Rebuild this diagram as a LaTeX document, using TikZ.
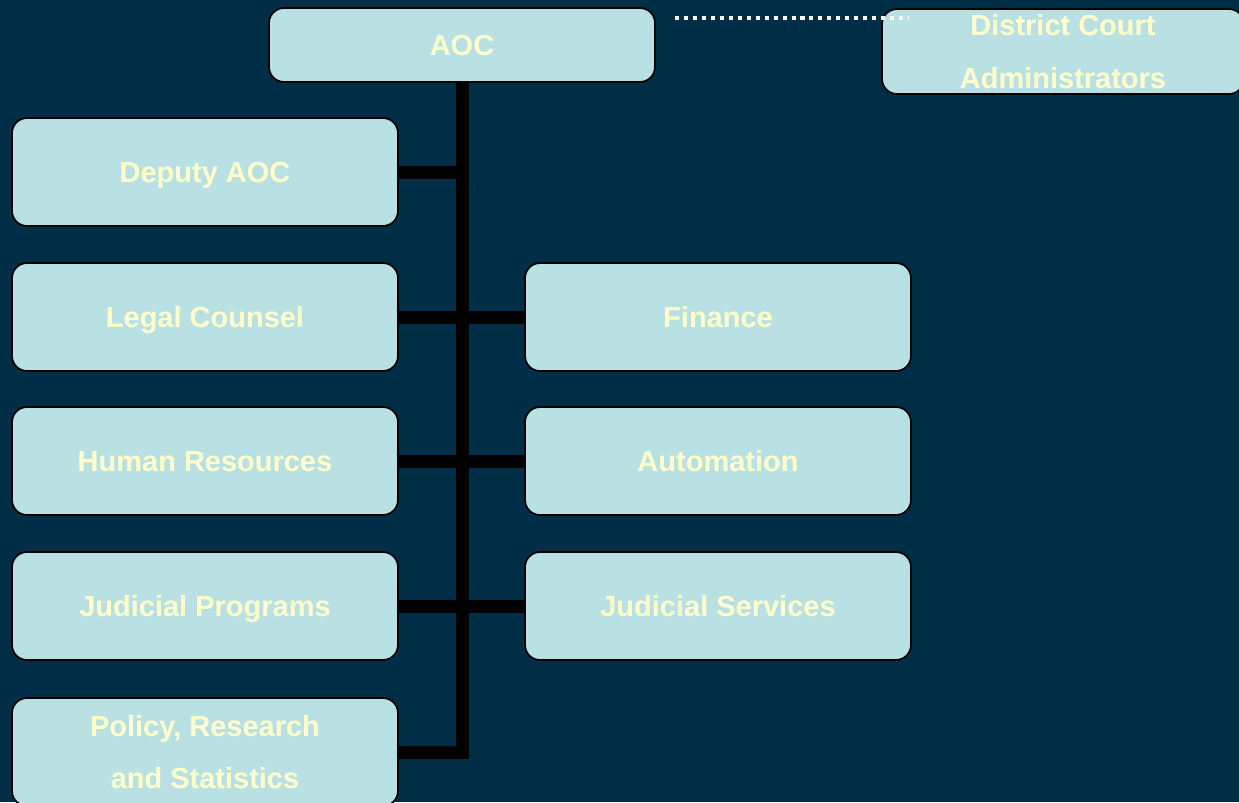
\documentclass[tikz,border=0pt]{standalone}
\usepackage{fontspec}
\setmainfont{Liberation Sans}
\usepackage{tikz}

\definecolor{navybg}{RGB}{0,46,71}
\definecolor{boxfill}{RGB}{185,224,227}
\definecolor{boxtext}{RGB}{255,255,204}

\begin{document}
\begin{tikzpicture}[x=0.02cm,y=-0.02cm,
  unit/.style={draw=black,line width=1pt,fill=boxfill,rounded corners=0.3cm,
    text=boxtext,font=\fontsize{16.5}{30}\selectfont\bfseries,align=center,
    inner sep=0pt,minimum width=7.72cm,minimum height=2.16cm},
  oneline/.style={text height=11.8pt,text depth=0pt},
  link/.style={line width=7.4pt,black,line join=miter}]

% background
\fill[navybg] (0,0) rectangle (1239,802);
\useasboundingbox (0,0) rectangle (1239,802);

% top level
\node[unit,oneline,minimum height=1.48cm] (aoc) at (462,45) {AOC};
\node[unit,minimum width=7.24cm,minimum height=1.7cm] (dca) at (1063,51.5) {District Court\\Administrators};

% left column
\node[unit,oneline] (deputy) at (205,172) {Deputy AOC};
\node[unit,oneline] (legal) at (205,317) {Legal Counsel};
\node[unit,oneline] (hr) at (205,461) {Human Resources};
\node[unit,oneline] (progs) at (205,606) {Judicial Programs};
\node[unit] (policy) at (205,752) {Policy, Research\\and Statistics};

% right column
\node[unit,oneline] (finance) at (718,317) {Finance};
\node[unit,oneline] (auto) at (718,461) {Automation};
\node[unit,oneline] (services) at (718,606) {Judicial Services};

% trunk and branches
\draw[link] (aoc.south) |- (policy.east);
\foreach \n in {deputy,legal,hr,progs}
    \draw[link] (\n.east) -- (\n.east -| aoc.south);
\foreach \n in {finance,auto,services}
    \draw[link] (\n.west) -- (\n.west -| aoc.south);

% dotted link to district court administrators
\coordinate (dotstart) at (675,18);
\coordinate (dotend) at (908,18);
\draw[white,line width=2.8pt,dash pattern=on 2.3pt off 2.8pt] (dotstart) -- (dotend);

\end{tikzpicture}
\end{document}
